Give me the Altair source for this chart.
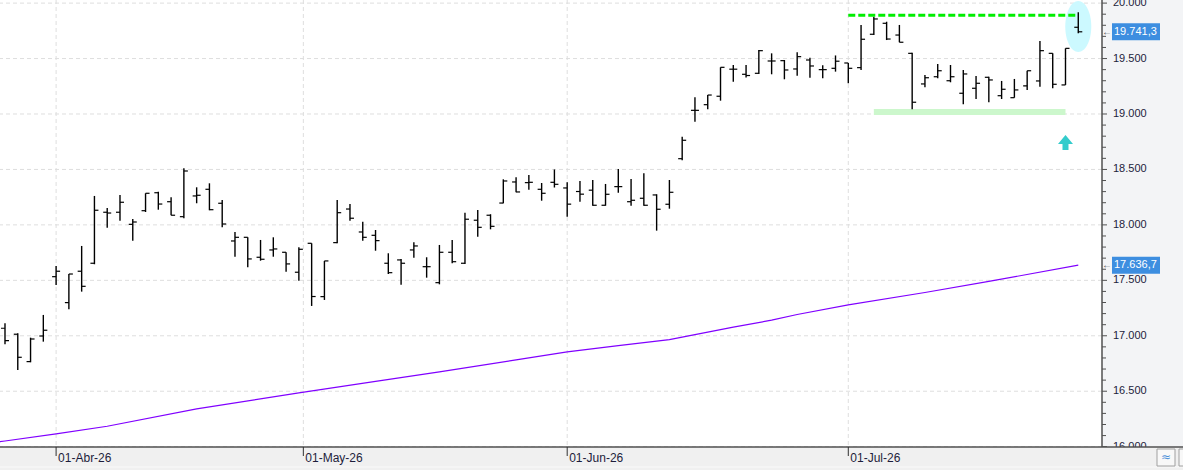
import altair as alt
import pandas as pd

# ---- OHLC data (one bar per trading session, index 0..84) ----
opens = [17068, 17014, 16767, 16998, 17533, 17299, 17582, 17654, 18114, 18114,
         18005, 18128, 18290, 18209, 18074, 18261, 18321, 18195, 17855, 17888,
         17708, 17774, 17753, 17573, 17834, 17353, 17840, 18143, 17936, 17906,
         17654, 17684, 17774, 17623, 17479, 17753, 17654, 18042, 18087, 18197,
         18387, 18381, 18321, 18384, 18333, 18301, 18313, 18177, 18345, 18209,
         18240, 18270, 18186, 18597, 19033, 19084, 19160, 19404, 19358, 19367,
         19478, 19481, 19406, 19487, 19400, 19412, 19460, 19418, 19719, 19818,
         19712, 19547, 19271, 19336, 19300, 19187, 19232, 19331, 19165, 19147,
         19253, 19298, 19547, 19262, 19782]
highs = [17113, 17023, 16983, 17188, 17629, 17557, 17810, 18261, 18152, 18270,
         18053, 18285, 18299, 18249, 18510, 18339, 18375, 18225, 17936, 17888,
         17864, 17888, 17753, 17798, 17834, 17675, 18225, 18188, 18029, 17954,
         17744, 17693, 17843, 17708, 17819, 17864, 18110, 18134, 18096, 18411,
         18429, 18450, 18378, 18500, 18384, 18396, 18405, 18369, 18504, 18414,
         18465, 18276, 18405, 18795, 19151, 19171, 19421, 19442, 19442, 19577,
         19547, 19487, 19556, 19508, 19440, 19528, 19460, 19803, 19877, 19832,
         19803, 19553, 19352, 19451, 19442, 19397, 19343, 19336, 19298, 19316,
         19390, 19658, 19547, 19592, 19917]
lows = [16923, 16692, 16761, 16947, 17458, 17239, 17398, 17645, 17975, 18038,
        17858, 18116, 18137, 18087, 18060, 18195, 18132, 17978, 17713, 17618,
        17677, 17713, 17578, 17497, 17269, 17323, 17834, 18038, 17858, 17767,
        17557, 17461, 17704, 17524, 17464, 17654, 17648, 17894, 17960, 18195,
        18294, 18317, 18218, 18337, 18074, 18209, 18173, 18173, 18290, 18173,
        18173, 17948, 18146, 18583, 18931, 19042, 19120, 19291, 19329, 19361,
        19358, 19313, 19345, 19327, 19322, 19382, 19277, 19397, 19712, 19667,
        19647, 19042, 19241, 19322, 19286, 19087, 19135, 19106, 19135, 19147,
        19217, 19246, 19232, 19262, 19728]
closes = [16956, 16806, 16971, 17050, 17582, 17557, 17446, 18132, 18107, 18204,
          18026, 18285, 18188, 18087, 18486, 18267, 18137, 18008, 17888, 17693,
          17690, 17783, 17648, 17780, 17354, 17675, 18110, 18060, 17888, 17858,
          17569, 17654, 17810, 17623, 17753, 17668, 18051, 17978, 17987, 18396,
          18297, 18384, 18285, 18366, 18187, 18277, 18177, 18276, 18345, 18222,
          18177, 18141, 18294, 18763, 19033, 19171, 19421, 19404, 19347, 19571,
          19478, 19397, 19517, 19433, 19400, 19476, 19412, 19674, 19857, 19676,
          19647, 19106, 19327, 19390, 19336, 19361, 19277, 19307, 19223, 19217,
          19390, 19571, 19268, 19592, 19741.3]

# ---- moving average (read at selected sessions) ----
ma_idx = [-1, 0, 4, 8, 15, 23, 29, 34, 40, 44, 48, 52, 54, 57, 60, 62, 66, 72, 77, 84]
ma_val = [16035, 16051, 16115, 16184, 16340, 16485, 16589, 16674, 16783, 16854,
          16911, 16966, 17010, 17078, 17141, 17192, 17278, 17390, 17490, 17636.7]

# ---- axis ticks / labels ----
month_pos = [4, 23.35, 44, 66]
month_labels = ["01-Abr-26", "01-May-26", "01-Jun-26", "01-Jul-26"]
y_major = [16000, 16500, 17000, 17500, 18000, 18500, 19000, 19500, 20000]
y_major_labels = ["16.000", "16.500", "17.000", "17.500", "18.000", "18.500",
                  "19.000", "19.500", "20.000"]
y_minor = [v for v in range(16000, 20001, 100) if v % 500 != 0]

# ---- annotations ----
resist_level = [19891]
resist_from = [66]
resist_to = [84]
band_lo = [18991]
band_hi = [19045]
band_from = [68]
band_to = [83]
ellipse_i = [84]
ellipse_v = [19789]
arrow_i = [83]
arrow_v = [18743]
value_tags = [closes[-1], ma_val[-1]]
value_tag_labels = ["19.741,3", "17.636,7"]

FONT = "Liberation Sans"
xs = alt.Scale(domain=[-0.391, 85.857], nice=False, zero=False)
ys = alt.Scale(domain=[15997, 20028], nice=False, zero=False)

bars = pd.DataFrame({"i": list(range(len(opens))), "o": opens, "h": highs,
                     "l": lows, "c": closes})
ma = pd.DataFrame({"i": ma_idx, "v": ma_val})
months = pd.DataFrame({"pos": month_pos, "label": month_labels})
ymaj = pd.DataFrame({"v": y_major, "label": y_major_labels})
ymin = pd.DataFrame({"v": y_minor})
one = pd.DataFrame({"a": [0]})
resist = pd.DataFrame({"x1": resist_from, "x2": resist_to, "v": resist_level})
band = pd.DataFrame({"x1": band_from, "x2": band_to, "lo": band_lo, "hi": band_hi})
ell = pd.DataFrame({"i": ellipse_i, "v": ellipse_v})
arr = pd.DataFrame({"i": arrow_i, "v": arrow_v})
tags = pd.DataFrame({"v": value_tags, "label": value_tag_labels})

X = lambda f: alt.X(f, type="quantitative", scale=xs, axis=None)
Y = lambda f: alt.Y(f, type="quantitative", scale=ys, axis=None)

grid_h = alt.Chart(ymaj).mark_rule(color="#dedede", strokeDash=[4, 3], strokeWidth=1).encode(y=Y("v"))
grid_v = alt.Chart(months).mark_rule(color="#dedede", strokeDash=[4, 3], strokeWidth=1).encode(x=X("pos"))

band_l = alt.Chart(band).mark_rect(color="#ccf7cc").encode(
    x=X("x1"), x2="x2", y=Y("lo"), y2="hi")

ellipse_path = "M -0.51 0 A 0.51 1 0 1 0 0.51 0 A 0.51 1 0 1 0 -0.51 0 Z"
ell_l = alt.Chart(ell).mark_point(shape=ellipse_path, size=2601, filled=True,
                                  color="#ccf9ff", opacity=1, strokeWidth=0).encode(
    x=X("i"), y=Y("v"))

ma_l = alt.Chart(ma).mark_line(color="#8000ff", strokeWidth=1.2, clip=True).encode(
    x=X("i"), y=Y("v"))

hl = alt.Chart(bars).mark_rule(color="#000000", strokeWidth=1.4).encode(
    x=X("i"), y=Y("l"), y2="h")
op = alt.Chart(bars).mark_tick(orient="horizontal", size=4, thickness=1.2, xOffset=-2,
                               color="#000000", opacity=1).encode(x=X("i"), y=Y("o"))
cl = alt.Chart(bars).mark_tick(orient="horizontal", size=4, thickness=1.2, xOffset=2,
                               color="#000000", opacity=1).encode(x=X("i"), y=Y("c"))

resist_l = alt.Chart(resist).mark_rule(color="#00ee00", strokeWidth=3,
                                       strokeDash=[7, 3]).encode(
    x=X("x1"), x2="x2", y=Y("v"))

arrow_path = "M 0 -1 L 1 0.2 L 0.4 0.2 L 0.4 1 L -0.4 1 L -0.4 0.2 L -1 0.2 Z"
arrow_l = alt.Chart(arr).mark_point(shape=arrow_path, size=225, filled=True,
                                    color="#33cccc", opacity=1, strokeWidth=0).encode(
    x=X("i"), y=Y("v"))

right_panel = alt.Chart(one).mark_rect(color="#f3f4f6", clip=False).encode(
    x=alt.value(1102), x2=alt.value(1183), y=alt.value(0), y2=alt.value(470))
bottom_panel = alt.Chart(one).mark_rect(color="#f0f0f0", clip=False).encode(
    x=alt.value(0), x2=alt.value(1183), y=alt.value(447), y2=alt.value(470))
bottom_sep = alt.Chart(one).mark_rule(color="#fafafa", strokeWidth=1, clip=False).encode(
    x=alt.value(0), x2=alt.value(1183), y=alt.value(467))

axis_r = alt.Chart(one).mark_rule(color="#505050", strokeWidth=1.5, clip=False).encode(
    x=alt.value(1102), y=alt.value(0), y2=alt.value(447))
axis_b = alt.Chart(one).mark_rule(color="#505050", strokeWidth=1.5, clip=False).encode(
    x=alt.value(0), x2=alt.value(1183), y=alt.value(447))

ytick_maj = alt.Chart(ymaj).mark_rule(color="#505050", strokeWidth=1, clip=False).encode(
    x=alt.value(1102), x2=alt.value(1107), y=Y("v"))
ytick_min = alt.Chart(ymin).mark_rule(color="#505050", strokeWidth=1, clip=False).encode(
    x=alt.value(1102), x2=alt.value(1106), y=Y("v"))
ylab = alt.Chart(ymaj).mark_text(align="left", baseline="middle", font=FONT, fontSize=11,
                                 color="#1d1d3b", clip=False).encode(
    x=alt.value(1113), y=Y("v"), text="label:N")

xtick = alt.Chart(months).mark_rule(color="#303030", strokeWidth=1, clip=False).encode(
    x=X("pos"), y=alt.value(447), y2=alt.value(456))
xlab = alt.Chart(months).mark_text(align="left", baseline="top", dx=2, font=FONT,
                                   fontSize=12, color="#1d1d3b", clip=False).encode(
    x=X("pos"), y=alt.value(453), text="label:N")

tag_box = alt.Chart(tags).mark_tick(orient="horizontal", size=48, thickness=17,
                                    color="#3d8ee0", opacity=1, clip=False).encode(
    x=alt.value(1136), y=Y("v"))
tag_txt = alt.Chart(tags).mark_text(align="left", baseline="middle", font=FONT, fontSize=11,
                                    color="#ffffff", clip=False).encode(
    x=alt.value(1114), y=Y("v"), text="label:N")
tag_arrow = alt.Chart(tags).mark_text(align="center", baseline="middle", font=FONT,
                                      fontSize=10, color="#555555", clip=False, text="←").encode(
    x=alt.value(1107), y=Y("v"))

icon_box = alt.Chart(one).mark_rect(fill="#f8f8f8", stroke="#a0a0a0", strokeWidth=1,
                                    clip=False).encode(
    x=alt.value(1157), x2=alt.value(1175), y=alt.value(449), y2=alt.value(466))
icon_box2 = alt.Chart(one).mark_rect(fill="#f8f8f8", stroke="#a0a0a0", strokeWidth=1,
                                     clip=False).encode(
    x=alt.value(1179), x2=alt.value(1195), y=alt.value(449), y2=alt.value(466))
icon_txt = alt.Chart(one).mark_text(align="center", baseline="middle", fontSize=12,
                                    font="DejaVu Sans", color="#4a90d9", clip=False,
                                    text="≈").encode(x=alt.value(1166), y=alt.value(457))

chart = alt.layer(
    grid_h, grid_v, band_l, ell_l, ma_l, hl, op, cl, resist_l, arrow_l,
    right_panel, ytick_maj, ytick_min, ylab,
    bottom_panel, bottom_sep, axis_r, axis_b, xtick, xlab,
    tag_box, tag_txt, tag_arrow, icon_box, icon_box2, icon_txt
).properties(
    width=1102, height=447,
    autosize=alt.AutoSizeParams(type="none"),
    padding={"left": 0, "top": 0, "right": 81, "bottom": 23},
    background="#ffffff",
).configure_view(strokeWidth=0)

chart.save("out.html", embed_options={"renderer": "svg", "actions": False})
